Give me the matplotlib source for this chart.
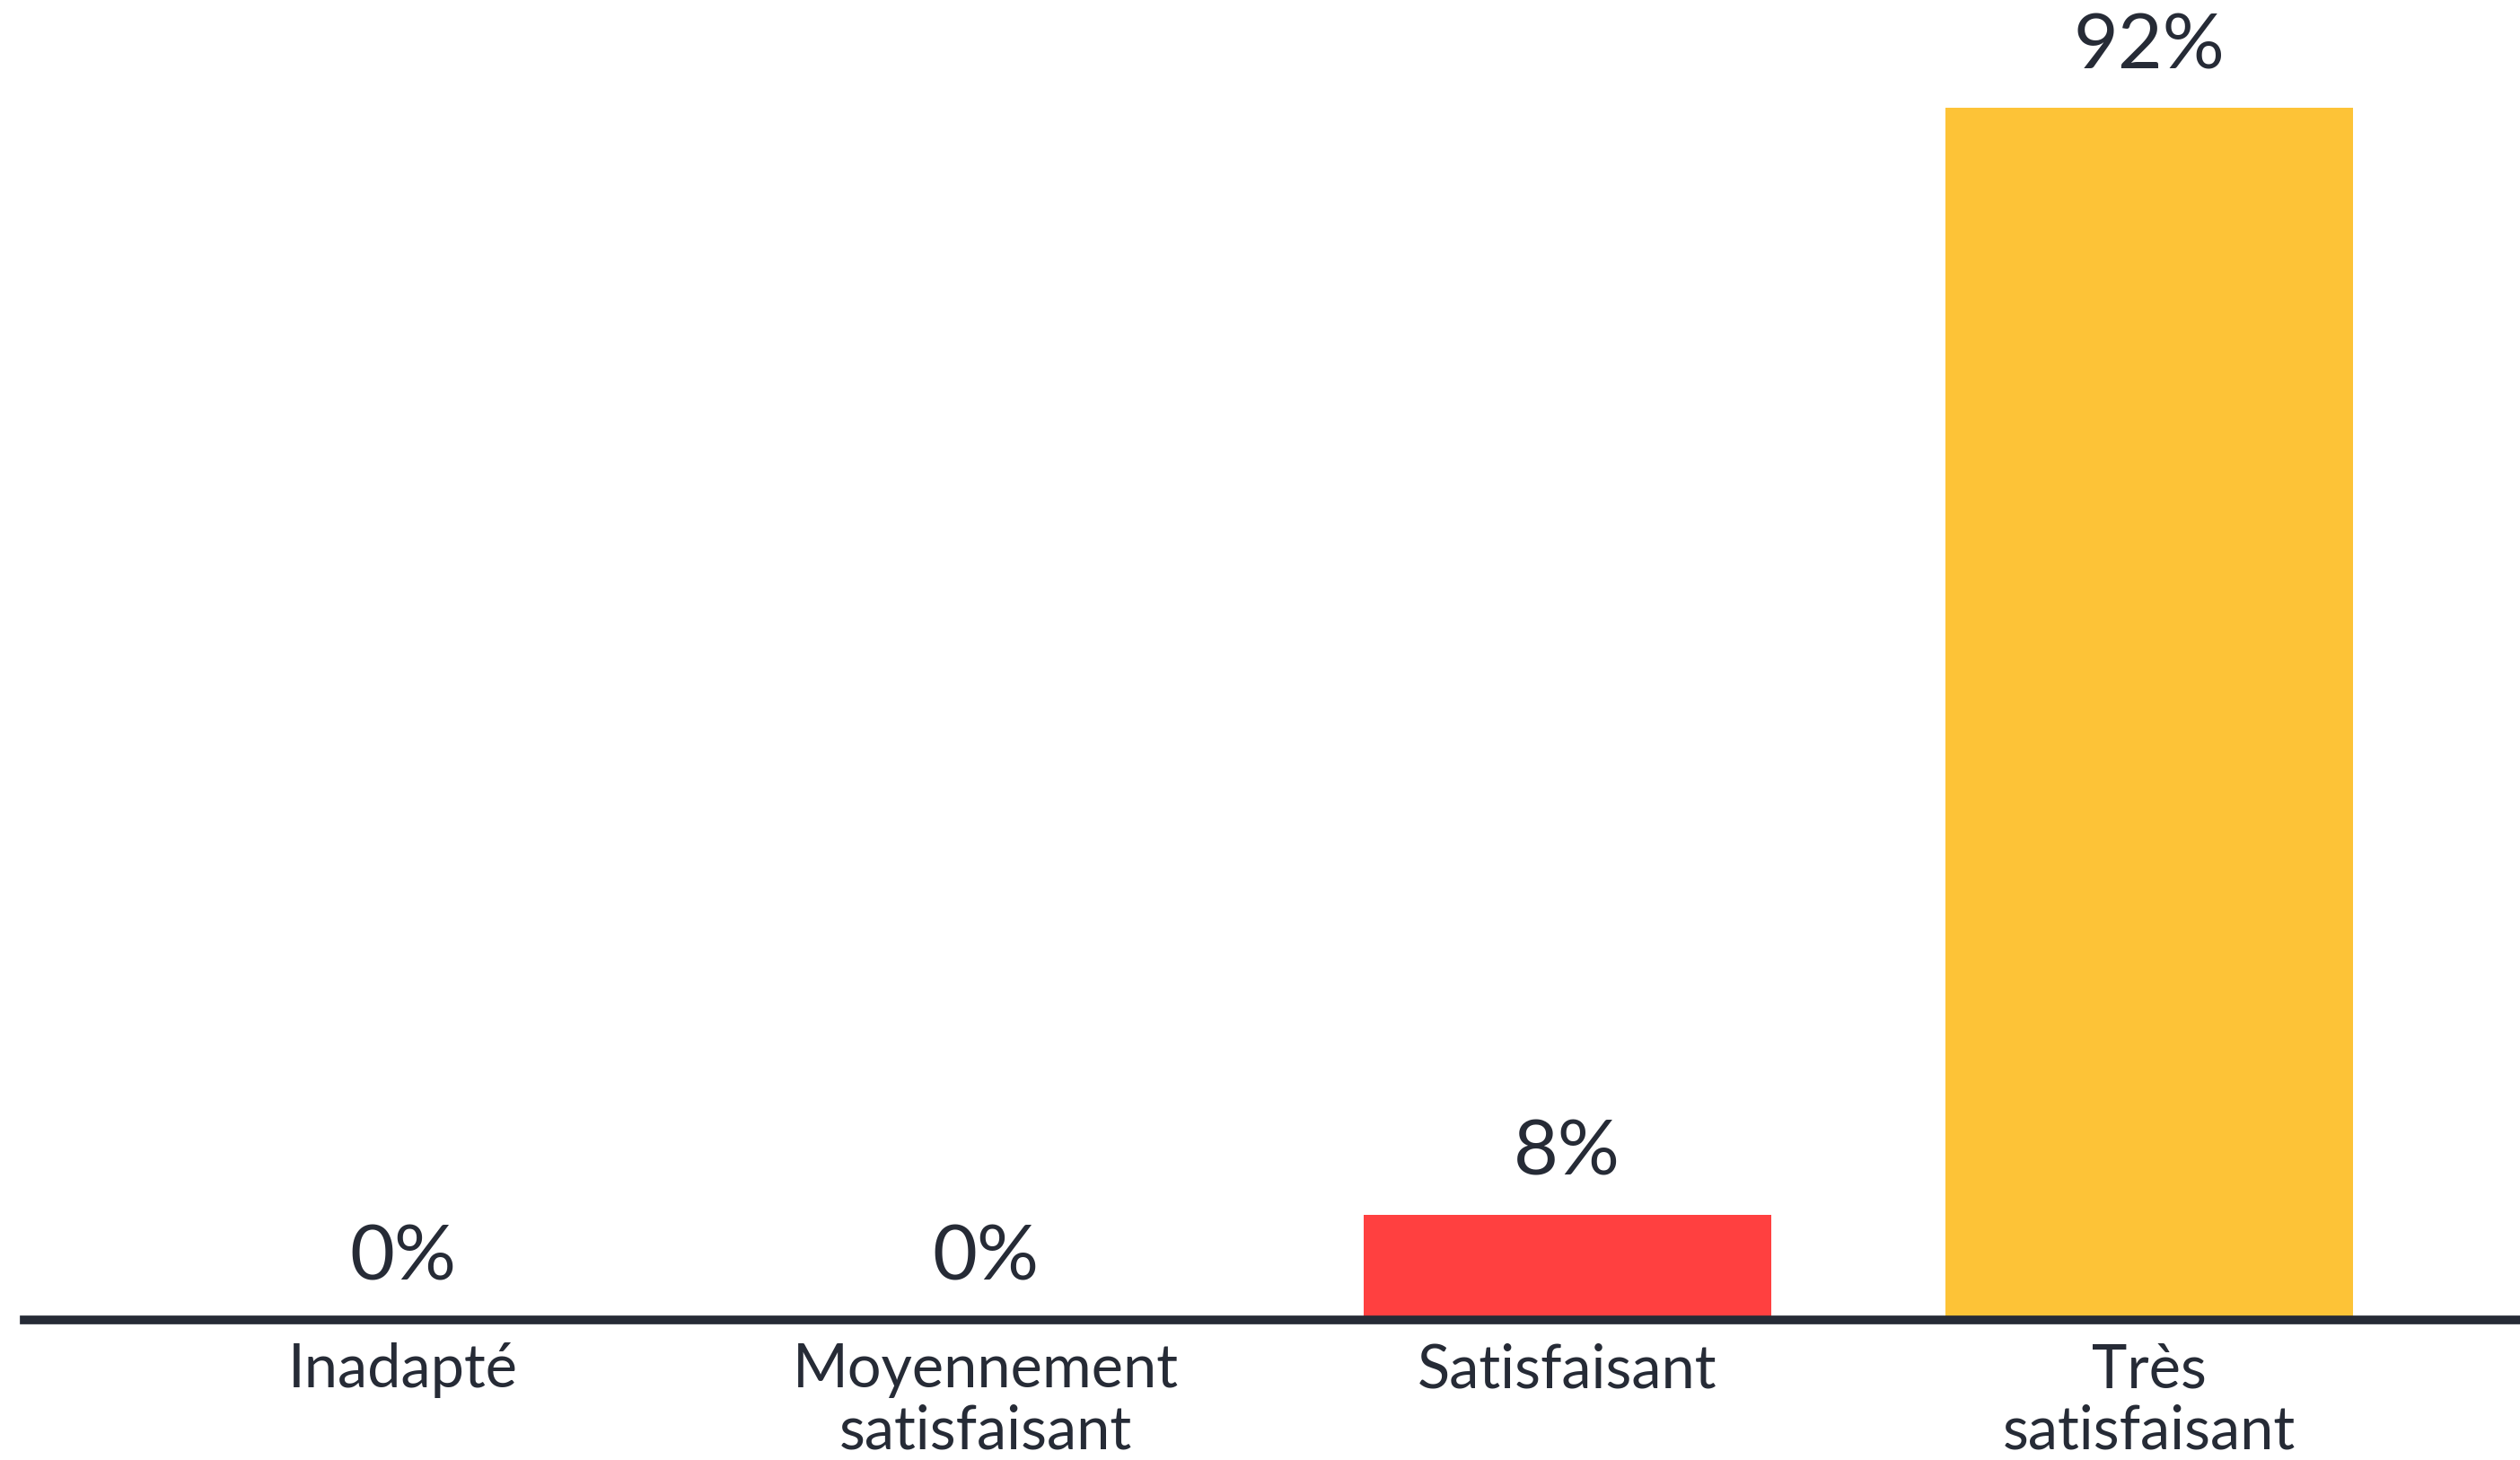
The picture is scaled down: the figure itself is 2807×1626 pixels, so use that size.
import matplotlib.pyplot as plt

categories = ["Inadapté", "Moyennement\nsatisfaisant", "Satisfaisant", "Très\nsatisfaisant"]
values = [0, 0, 8, 92]
labels = ["0%", "0%", "8%", "92%"]
colors = ["#ff4040", "#ff4040", "#ff4040", "#fdc337"]

TEXT = "#262b36"
plt.rcParams['font.family'] = ['Lato', 'DejaVu Sans']

fig = plt.figure(figsize=(28.07, 16.26), dpi=100)
ax = fig.add_axes([27 / 2807, 156 / 1626, 1 - 27 / 2807, 1 - 156 / 1626])

x = list(range(len(categories)))
bars = ax.bar(x, values, width=0.70, color=colors, zorder=1)

for xi, v, lab in zip(x, values, labels):
    ax.annotate(lab, (xi, v), xytext=(0, 21), textcoords='offset points',
                ha='center', va='bottom', fontsize=62, color=TEXT)

ax.set_xlim(-0.651, 3.637)
ax.set_ylim(0, 100.2)
ax.set_xticks(x)
ax.set_xticklabels(categories, fontsize=48, color=TEXT, linespacing=1.12)
ax.tick_params(axis='x', length=0, pad=18)
ax.set_yticks([])

for s in ['top', 'right', 'left']:
    ax.spines[s].set_visible(False)
ax.spines['bottom'].set_color(TEXT)
ax.spines['bottom'].set_linewidth(7)
ax.spines['bottom'].set_zorder(3)

fig.savefig("out.png", dpi=100)
